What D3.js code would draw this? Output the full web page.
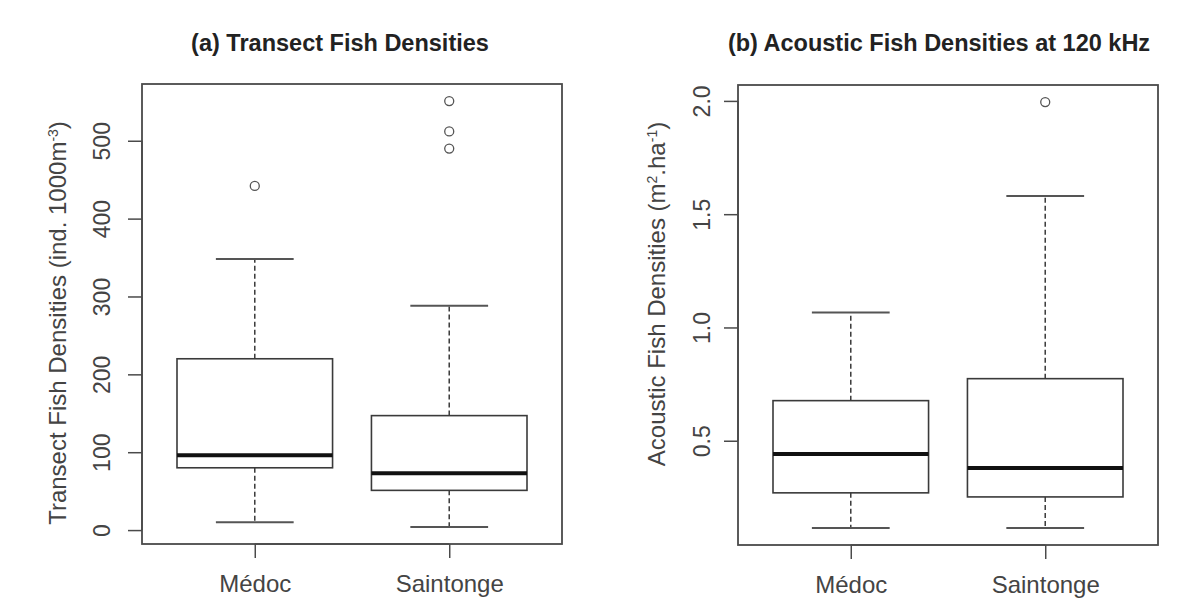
<!DOCTYPE html>
<html>
<head>
<meta charset="utf-8">
<script src="https://cdn.jsdelivr.net/npm/d3@7"></script>
<style>
  html, body { margin: 0; padding: 0; background: #fff; }
  svg { display: block; }
  text { font-family: "Liberation Sans", Arial, sans-serif; fill: #333; }
</style>
</head>
<body>
<svg id="chart" width="1203" height="607"></svg>
<script>
// Box-plot summaries per site: [lower whisker, Q1, median, Q3, upper whisker]
const categories = ["Médoc", "Saintonge"];
const transectStats = [
  [10, 80, 96, 220, 348],
  [4, 51, 73, 147, 288]
];
const transectOutliers = [[442], [490, 512, 551]];
const transectTicks = [0, 100, 200, 300, 400, 500];

const acousticStats = [
  [0.115, 0.27, 0.442, 0.677, 1.066],
  [0.115, 0.252, 0.38, 0.774, 1.58]
];
const acousticOutliers = [[], [1.995]];
const acousticTicks = [0.5, 1.0, 1.5, 2.0];

const svg = d3.select("#chart");
const lineColor = "#3a3a3a";
const axisColor = "#4a4a4a";
const textSize = 24;

function drawPanel(opts) {
  const { left, right, top, bottom, stats, outliers, ticks, tickFmt, title, titleX,
          ylabel, ylabelX, ylabelY, tickLabelX } = opts;
  const g = svg.append("g");

  // x positions 1..n, padded like a base-graphics boxplot
  const n = categories.length;
  const xr = [0.5 - 0.04 * n, n + 0.5 + 0.04 * n];
  const x = d3.scaleLinear().domain(xr).range([left, right]);

  const all = stats.flat().concat(outliers.flat());
  const lo = d3.min(all), hi = d3.max(all), pad = (hi - lo) * 0.04;
  const y = d3.scaleLinear().domain([lo - pad, hi + pad]).range([bottom, top]);

  const halfBox = 0.4, halfCap = 0.2;

  stats.forEach((s, i) => {
    const cx = x(i + 1);
    const [wl, q1, med, q3, wh] = s;
    // whiskers
    g.append("line").attr("x1", cx).attr("x2", cx).attr("y1", y(q3)).attr("y2", y(wh))
      .attr("stroke", lineColor).attr("stroke-width", 1.5).attr("stroke-dasharray", "5,3");
    g.append("line").attr("x1", cx).attr("x2", cx).attr("y1", y(q1)).attr("y2", y(wl))
      .attr("stroke", lineColor).attr("stroke-width", 1.5).attr("stroke-dasharray", "5,3");
    // staples
    [wl, wh].forEach(v => {
      g.append("line").attr("x1", x(i + 1 - halfCap)).attr("x2", x(i + 1 + halfCap))
        .attr("y1", y(v)).attr("y2", y(v)).attr("stroke", "#555").attr("stroke-width", 2);
    });
    // box
    g.append("rect").attr("x", x(i + 1 - halfBox)).attr("y", y(q3))
      .attr("width", x(i + 1 + halfBox) - x(i + 1 - halfBox)).attr("height", y(q1) - y(q3))
      .attr("fill", "none").attr("stroke", lineColor).attr("stroke-width", 1.6);
    // median
    g.append("line").attr("x1", x(i + 1 - halfBox)).attr("x2", x(i + 1 + halfBox))
      .attr("y1", y(med)).attr("y2", y(med)).attr("stroke", "#111").attr("stroke-width", 4);
    // outliers
    outliers[i].forEach(v => {
      g.append("circle").attr("cx", cx).attr("cy", y(v)).attr("r", 4.5)
        .attr("fill", "none").attr("stroke", "#555").attr("stroke-width", 1.3);
    });
  });

  // frame
  g.append("rect").attr("x", left).attr("y", top).attr("width", right - left).attr("height", bottom - top)
    .attr("fill", "none").attr("stroke", axisColor).attr("stroke-width", 1.8);

  // y axis
  const yAxis = d3.axisLeft(y).tickValues(ticks).tickFormat(tickFmt).tickSize(14).tickSizeOuter(0);
  const ya = g.append("g").attr("transform", `translate(${left},0)`).call(yAxis);
  ya.attr("font-family", null).attr("font-size", null);
  ya.select(".domain").attr("stroke", axisColor).attr("stroke-width", 1.5)
    .attr("d", `M0,${y(ticks[0])}V${y(ticks[ticks.length - 1])}`);
  ya.selectAll(".tick line").attr("stroke", axisColor).attr("stroke-width", 1.5);
  ya.selectAll(".tick text")
    .attr("x", 0).attr("y", 0).attr("dy", "0.36em").attr("text-anchor", "middle")
    .attr("transform", `translate(${tickLabelX - left},0) rotate(-90)`)
    .style("font-size", (textSize - 1) + "px").style("fill", "#444");

  // x axis
  const xAxis = d3.axisBottom(x).tickValues(d3.range(1, n + 1)).tickFormat(d => categories[d - 1]).tickSize(14).tickSizeOuter(0);
  const xa = g.append("g").attr("transform", `translate(0,${bottom})`).call(xAxis);
  xa.attr("font-family", null).attr("font-size", null);
  xa.select(".domain").attr("stroke", axisColor).attr("stroke-width", 1.5)
    .attr("d", `M${x(1)},0H${x(n)}`);
  xa.selectAll(".tick line").attr("stroke", axisColor).attr("stroke-width", 1.5);
  xa.selectAll(".tick text").attr("y", 48).attr("dy", "0").style("font-size", textSize + "px").style("fill", "#444");

  // title
  g.append("text").attr("x", titleX).attr("y", 51).attr("text-anchor", "middle")
    .style("font-size", "23.5px").style("font-weight", "bold").style("fill", "#222").text(title);

  // y label with superscripts
  const yl = g.append("text").attr("text-anchor", "middle").attr("dy", "0.36em")
    .attr("transform", `translate(${ylabelX},${ylabelY}) rotate(-90)`)
    .style("font-size", textSize + "px").style("fill", "#444");
  ylabel.forEach(part => {
    const t = yl.append("tspan").text(part.t);
    if (part.sup) t.attr("baseline-shift", "super").style("font-size", "14px");
  });
}

drawPanel({
  left: 142, right: 562, top: 84, bottom: 544,
  stats: transectStats, outliers: transectOutliers, ticks: transectTicks,
  tickFmt: d3.format("d"),
  title: "(a) Transect Fish Densities", titleX: 340,
  ylabel: [{ t: "Transect Fish Densities (ind. 1000m" }, { t: "-3", sup: true }, { t: ")" }],
  ylabelX: 57, ylabelY: 323, tickLabelX: 102
});

drawPanel({
  left: 738, right: 1158, top: 85, bottom: 545,
  stats: acousticStats, outliers: acousticOutliers, ticks: acousticTicks,
  tickFmt: d3.format(".1f"),
  title: "(b) Acoustic Fish Densities at 120 kHz", titleX: 939,
  ylabel: [{ t: "Acoustic Fish Densities (m" }, { t: "2", sup: true }, { t: ".ha" }, { t: "-1", sup: true }, { t: ")" }],
  ylabelX: 656, ylabelY: 294, tickLabelX: 702
});
</script>
</body>
</html>
